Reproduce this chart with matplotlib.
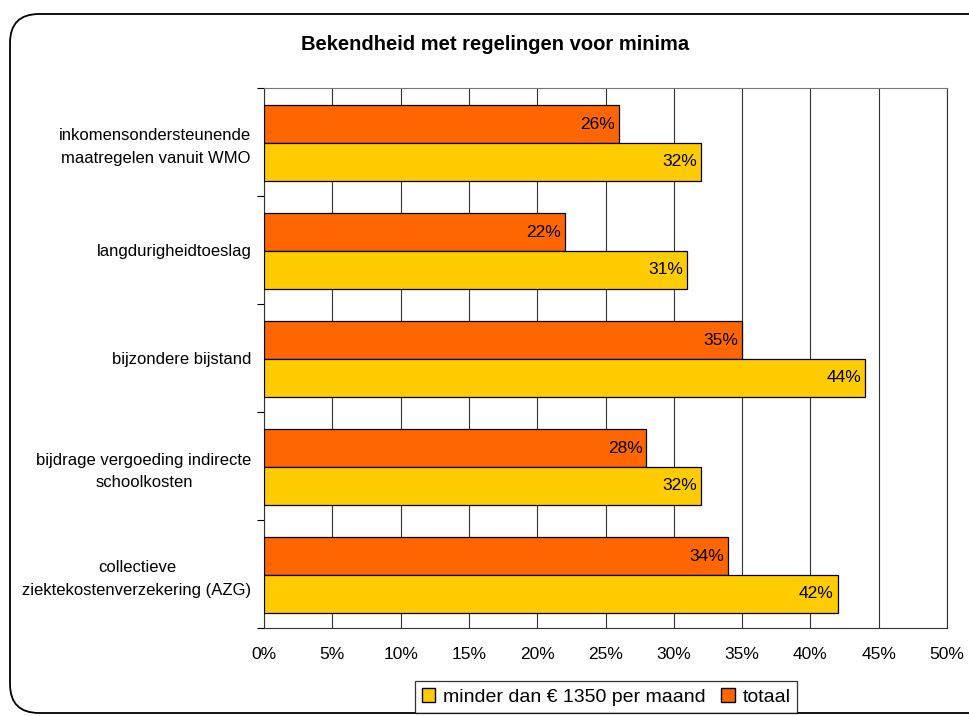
import matplotlib
matplotlib.use("Agg")
import matplotlib.pyplot as plt
from matplotlib.patches import FancyBboxPatch, Patch
import numpy as np

# Data
categories = [
    "inkomensondersteunende\nmaatregelen vanuit WMO",
    "langdurigheidtoeslag",
    "bijzondere bijstand",
    "bijdrage vergoeding indirecte\nschoolkosten",
    "collectieve\nziektekostenverzekering (AZG)",
]
totaal = [26, 22, 35, 28, 34]
minder_1350 = [32, 31, 44, 32, 42]
xticks = [0, 5, 10, 15, 20, 25, 30, 35, 40, 45, 50]

col_totaal = "#FF6600"
col_minder = "#FFCC00"

plt.rcParams['font.family'] = ['Liberation Sans', 'DejaVu Sans']

fig = plt.figure(figsize=(9.69, 7.16), dpi=100)

# rounded frame around chart
frame = FancyBboxPatch((10 / 969, 3 / 716), 1.1, 699 / 716,
                       boxstyle="round,pad=0,rounding_size=0.03",
                       transform=fig.transFigure, facecolor="none",
                       edgecolor="black", linewidth=1.3, mutation_aspect=969 / 716, zorder=-10)
fig.patches.append(frame)

ax = fig.add_axes([264 / 969, 1 - 628 / 716, 683 / 969, 540 / 716])
ax.set_facecolor("none")

y = np.arange(len(categories))
h = 0.35
ax.barh(y - h / 2 + 0.01, totaal, height=h, color=col_totaal, edgecolor="black", linewidth=0.9, zorder=3)
ax.barh(y + h / 2 + 0.01, minder_1350, height=h, color=col_minder, edgecolor="black", linewidth=0.9, zorder=3)

# value labels inside bars
for i in range(len(categories)):
    ax.text(totaal[i] - 0.3, y[i] - h / 2 + 0.01, str(totaal[i]) + "%", ha="right", va="center", fontsize=12.5, zorder=4)
    ax.text(minder_1350[i] - 0.3, y[i] + h / 2 + 0.01, str(minder_1350[i]) + "%", ha="right", va="center", fontsize=12.5, zorder=4)

ax.set_xlim(0, 50)
ax.set_ylim(len(categories) - 0.5, -0.5)
ax.set_xticks(xticks)
ax.set_xticklabels([str(t) + "%" for t in xticks], fontsize=12.5)
ax.tick_params(axis="x", length=0, pad=14)
ax.grid(axis="x", color="#333333", linewidth=0.8, zorder=0)

# boundaries as major ticks, labels as minor ticks
ax.set_yticks(np.arange(-0.5, len(categories), 1.0))
ax.set_yticklabels([])
ax.tick_params(axis="y", which="major", length=5, direction="out")
ax.set_yticks(y, minor=True)
ax.set_yticklabels(categories, minor=True, fontsize=12, multialignment="center")
for lab in ax.get_yticklabels(minor=True):
    lab.set_linespacing(1.6)
ax.tick_params(axis="y", which="minor", length=0, pad=9)

ax.spines["top"].set_color("#777777")
ax.spines["right"].set_color("#333333")
ax.spines["right"].set_linewidth(0.8)
ax.spines["left"].set_color("#333333")
ax.spines["bottom"].set_color("#333333")

fig.text(495 / 969, 1 - 45 / 716, "Bekendheid met regelingen voor minima", ha="center", va="center",
         fontsize=14.5, fontweight="bold")

handles = [Patch(facecolor=col_minder, edgecolor="black"), Patch(facecolor=col_totaal, edgecolor="black")]
leg = fig.legend(handles, ["minder dan € 1350 per maand", "totaal"], loc="center",
                 bbox_to_anchor=(606 / 969, 1 - 697 / 716), ncol=2, fontsize=14, frameon=True,
                 fancybox=False, handlelength=0.7, handleheight=0.7, handletextpad=0.4,
                 columnspacing=0.8, borderpad=0.35)
leg.get_frame().set_edgecolor("black")
leg.get_frame().set_linewidth(0.9)

fig.savefig("out.png", dpi=100)
